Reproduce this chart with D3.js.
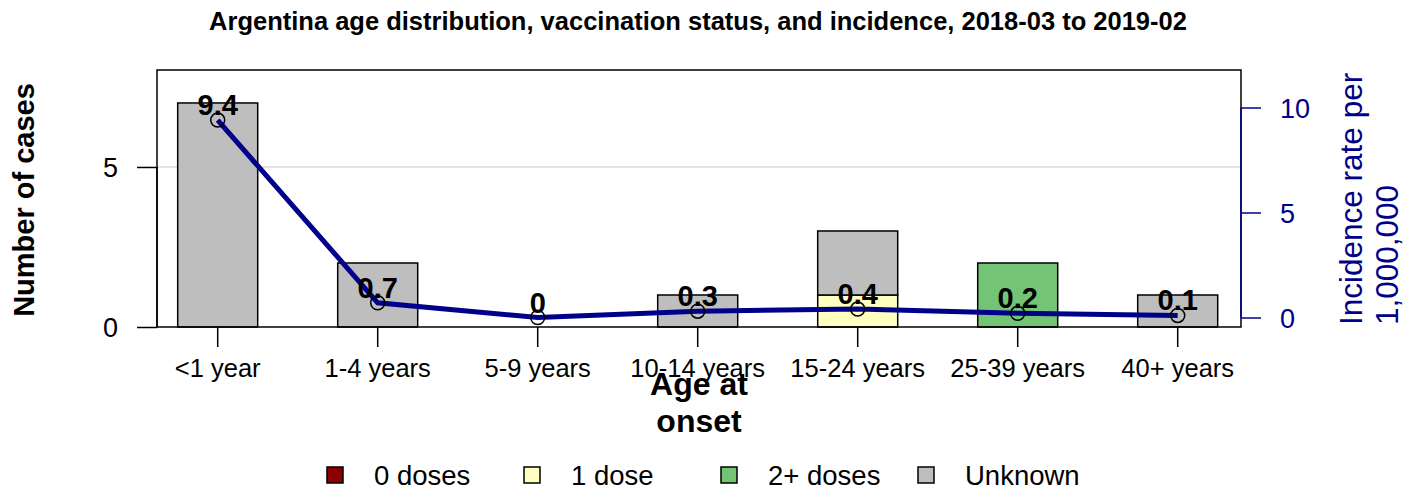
<!DOCTYPE html>
<html>
<head>
<meta charset="utf-8">
<script src="https://cdn.jsdelivr.net/npm/d3@7"></script>
<style>
  body { margin: 0; background: #fff; }
  svg text { font-family: "Liberation Sans", Arial, sans-serif; }
</style>
</head>
<body>
<div id="chart"></div>
<script>
// data
const ageGroups = ["<1 year", "1-4 years", "5-9 years", "10-14 years", "15-24 years", "25-39 years", "40+ years"];
const doses0 = [0, 0, 0, 0, 0, 0, 0];
const doses1 = [0, 0, 0, 0, 1, 0, 0];
const doses2 = [0, 0, 0, 0, 0, 2, 0];
const unknown = [7, 2, 0, 1, 2, 0, 1];
const incidence = [9.4, 0.7, 0, 0.3, 0.4, 0.2, 0.1];
const statusKeys = ["0 doses", "1 dose", "2+ doses", "Unknown"];
const statusColors = ["#8B0000", "#FFFFBF", "#74C476", "#BEBEBE"];
const leftTicks = [0, 5];
const rightTicks = [0, 5, 10];

const width = 1406, height = 489;
const box = { left: 157, right: 1241, top: 70, bottom: 327 };
const navy = "#00008B";

const svg = d3.select("#chart").append("svg")
  .attr("width", width)
  .attr("height", height);

// table for the stack
const table = ageGroups.map((g, i) => ({
  group: g,
  "0 doses": doses0[i],
  "1 dose": doses1[i],
  "2+ doses": doses2[i],
  "Unknown": unknown[i]
}));

const x = d3.scaleBand()
  .domain(ageGroups)
  .range([box.left - 19.3, box.right + 16.7])
  .paddingInner(0.5)
  .paddingOuter(0.25);

const y = d3.scaleLinear()
  .domain([0, 8.03])
  .range([box.bottom, box.top]);

const y2 = d3.scaleLinear()
  .domain([0, 10])
  .range([317.5, 107.5]);

const color = d3.scaleOrdinal().domain(statusKeys).range(statusColors);

// title
svg.append("text")
  .attr("x", 698).attr("y", 30)
  .attr("text-anchor", "middle")
  .style("font-size", "25.5px").style("font-weight", "bold")
  .text("Argentina age distribution, vaccination status, and incidence, 2018-03 to 2019-02");

// grid line at 5
svg.append("line")
  .attr("x1", box.left).attr("x2", box.right)
  .attr("y1", y(5)).attr("y2", y(5))
  .attr("stroke", "#D9D9D9").attr("stroke-width", 1.5);

// stacked bars
const series = d3.stack().keys(statusKeys)(table);
svg.append("g").selectAll("g")
  .data(series)
  .join("g")
  .attr("fill", d => color(d.key))
  .selectAll("rect")
  .data(d => d)
  .join("rect")
  .filter(d => d[1] - d[0] > 0 || d.data.group === "5-9 years")
  .attr("x", d => x(d.data.group))
  .attr("y", d => y(d[1]))
  .attr("width", x.bandwidth())
  .attr("height", d => y(d[0]) - y(d[1]))
  .attr("stroke", "#000")
  .attr("stroke-width", 1.5);

// frame
svg.append("rect")
  .attr("x", box.left).attr("y", box.top)
  .attr("width", box.right - box.left).attr("height", box.bottom - box.top)
  .attr("fill", "none").attr("stroke", "#000").attr("stroke-width", 1.5);

// left axis
const leftAxis = svg.append("g")
  .attr("transform", `translate(${box.left},0)`)
  .call(d3.axisLeft(y).tickValues(leftTicks).tickSize(20).tickPadding(19).tickFormat(d3.format("d")));
leftAxis.select(".domain").attr("d", `M0,${y(0)}V${y(5)}`).attr("stroke-width", 1.5);
leftAxis.selectAll(".tick line").attr("stroke-width", 1.5);
leftAxis.selectAll(".tick text").style("font-size", "27px").attr("fill", "#000").attr("dy", "0.36em");

// right axis
const rightAxis = svg.append("g")
  .attr("transform", `translate(${box.right},0)`)
  .call(d3.axisRight(y2).tickValues(rightTicks).tickSize(20).tickPadding(19).tickFormat(d3.format("d")));
rightAxis.select(".domain").attr("d", `M0,${y2(0)}V${y2(10)}`).attr("stroke", navy).attr("stroke-width", 1.5);
rightAxis.selectAll(".tick line").attr("stroke", navy).attr("stroke-width", 1.5);
rightAxis.selectAll(".tick text").style("font-size", "27px").attr("fill", navy).attr("dy", "0.36em");

// bottom axis
const bottomAxis = svg.append("g")
  .attr("transform", `translate(0,${box.bottom})`)
  .call(d3.axisBottom(x).tickSize(20).tickPadding(12));
bottomAxis.select(".domain").remove();
bottomAxis.selectAll(".tick line").attr("stroke-width", 1.5);
bottomAxis.selectAll(".tick text").style("font-size", "25.5px").attr("fill", "#000");

// axis titles
svg.append("text")
  .attr("transform", "translate(34,200) rotate(-90)")
  .attr("text-anchor", "middle")
  .style("font-size", "29px").style("font-weight", "bold")
  .text("Number of cases");

const rt = svg.append("text")
  .attr("transform", "translate(1362,325) rotate(-90)")
  .attr("fill", navy)
  .style("font-size", "31.5px");
rt.append("tspan").attr("x", 0).attr("y", 0).text("Incidence rate per");
rt.append("tspan").attr("x", 0).attr("y", 36).text("1,000,000");

const xt = svg.append("text")
  .attr("text-anchor", "middle")
  .style("font-size", "32px").style("font-weight", "bold");
xt.append("tspan").attr("x", 699).attr("y", 395).text("Age at");
xt.append("tspan").attr("x", 699).attr("y", 432).text("onset");

// incidence line
const pts = ageGroups.map((g, i) => ({ g: g, v: incidence[i] }));
const line = d3.line()
  .x(d => x(d.g) + x.bandwidth() / 2)
  .y(d => y2(d.v));

svg.append("path")
  .datum(pts)
  .attr("d", line)
  .attr("fill", "none")
  .attr("stroke", navy)
  .attr("stroke-width", 5);

svg.selectAll(".dot")
  .data(pts)
  .join("circle")
  .attr("class", "dot")
  .attr("cx", d => x(d.g) + x.bandwidth() / 2)
  .attr("cy", d => y2(d.v))
  .attr("r", 7)
  .attr("fill", "none")
  .attr("stroke", "#000")
  .attr("stroke-width", 1.5);

svg.selectAll(".lbl")
  .data(pts)
  .join("text")
  .attr("class", "lbl")
  .attr("x", d => x(d.g) + x.bandwidth() / 2)
  .attr("y", d => y2(d.v) - 5)
  .attr("text-anchor", "middle")
  .style("font-size", "29px").style("font-weight", "bold")
  .text(d => d.v);

// legend
const legend = svg.append("g").attr("transform", "translate(327,475)");
const item = legend.selectAll("g")
  .data(statusKeys)
  .join("g")
  .attr("transform", (d, i) => `translate(${i * 197},0)`);
item.append("rect")
  .attr("x", 0).attr("y", -8)
  .attr("width", 16).attr("height", 16)
  .attr("fill", d => color(d))
  .attr("stroke", "#000").attr("stroke-width", 1.5);
item.append("text")
  .attr("x", 47).attr("y", 0).attr("dy", "0.36em")
  .style("font-size", "27.5px")
  .text(d => d);
</script>
</body>
</html>
